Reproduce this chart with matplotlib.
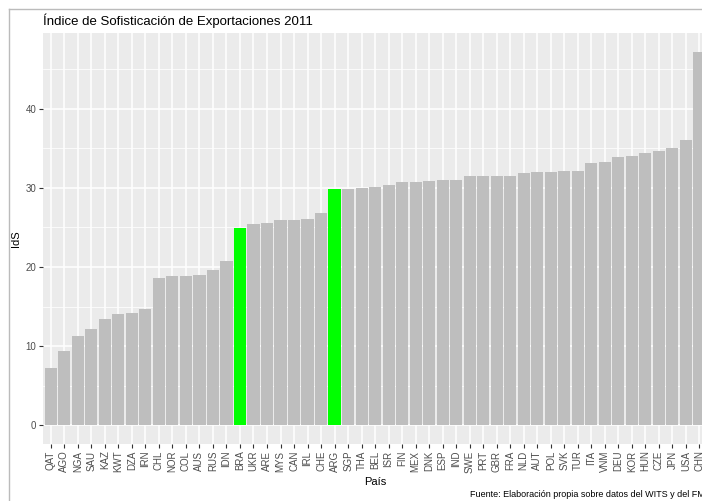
import matplotlib
matplotlib.use('Agg')
import matplotlib.pyplot as plt
from matplotlib.lines import Line2D
import numpy as np

paises = ['QAT', 'AGO', 'NGA', 'SAU', 'KAZ', 'KWT', 'DZA', 'IRN', 'CHL', 'NOR',
          'COL', 'AUS', 'RUS', 'IDN', 'BRA', 'UKR', 'ARE', 'MYS', 'CAN', 'IRL',
          'CHE', 'ARG', 'SGP', 'THA', 'BEL', 'ISR', 'FIN', 'MEX', 'DNK', 'ESP',
          'IND', 'SWE', 'PRT', 'GBR', 'FRA', 'NLD', 'AUT', 'POL', 'SVK', 'TUR',
          'ITA', 'VNM', 'DEU', 'KOR', 'HUN', 'CZE', 'JPN', 'USA', 'CHN']
ids = [7.3, 9.4, 11.3, 12.2, 13.4, 14.0, 14.2, 14.7, 18.6, 18.9,
       18.9, 19.0, 19.6, 20.8, 24.9, 25.4, 25.6, 25.9, 25.9, 26.1,
       26.8, 29.8, 29.9, 29.95, 30.1, 30.3, 30.75, 30.75, 30.9, 31.0,
       31.0, 31.5, 31.5, 31.5, 31.5, 31.9, 32.0, 32.0, 32.1, 32.1,
       33.1, 33.3, 33.9, 34.0, 34.4, 34.7, 35.0, 36.0, 47.2]
destacados = ['BRA', 'ARG']

plt.rcParams['font.family'] = ['Liberation Sans', 'DejaVu Sans']

fig = plt.figure(figsize=(7.02, 5.01), dpi=100)
W, H = 702, 501
# the reference is a cropped screenshot: the panel runs past the right edge
left, right, top, bottom = 42.7, 707.5, 33, 444
ax = fig.add_axes([left / W, 1 - bottom / H, (right - left) / W, (bottom - top) / H])

x = np.arange(len(paises))
colores = ['#00FF00' if p in destacados else '#BEBEBE' for p in paises]
ax.set_facecolor('#EBEBEB')
ax.bar(x, ids, width=0.9, color=colores, zorder=2)

ymax = max(ids)
ax.set_ylim(-0.05 * ymax, ymax * 1.05)
ax.set_xlim(-0.6, len(paises) - 0.4)

ax.set_yticks([0, 10, 20, 30, 40])
ax.set_yticks([5, 15, 25, 35, 45], minor=True)
ax.set_xticks(x)
ax.set_xticklabels(paises, rotation=90, ha='center', va='top')
ax.grid(True, which='major', color='white', linewidth=1.1, zorder=0)
ax.grid(True, which='minor', axis='y', color='white', linewidth=0.55, zorder=0)
ax.set_axisbelow(True)
for s in ax.spines.values():
    s.set_visible(False)
ax.tick_params(axis='both', which='major', length=2.7, width=0.8, color='#333333',
               labelsize=7, labelcolor='#4D4D4D', pad=2)
ax.tick_params(axis='both', which='minor', length=0)

ax.set_xlabel('País', fontsize=8, labelpad=3)
ax.set_ylabel('IdS', fontsize=8)
ax.yaxis.set_label_coords(-0.033, 0.5)
fig.text(left / W, 1 - 25 / H, 'Índice de Sofisticación de Exportaciones 2011',
         fontsize=9.5, ha='left', va='baseline')
fig.text(right / W, 1 - 497 / H, 'Fuente: Elaboración propia sobre datos del WITS y del FMI',
         fontsize=6.5, ha='right', va='baseline')

fig.add_artist(Line2D([9.3 / W, 1], [1 - 9.3 / H, 1 - 9.3 / H], color='#BBBBBB', lw=1))
fig.add_artist(Line2D([9.3 / W, 9.3 / W], [0, 1 - 9.3 / H], color='#BBBBBB', lw=1))

fig.savefig('out.png', dpi=100)
